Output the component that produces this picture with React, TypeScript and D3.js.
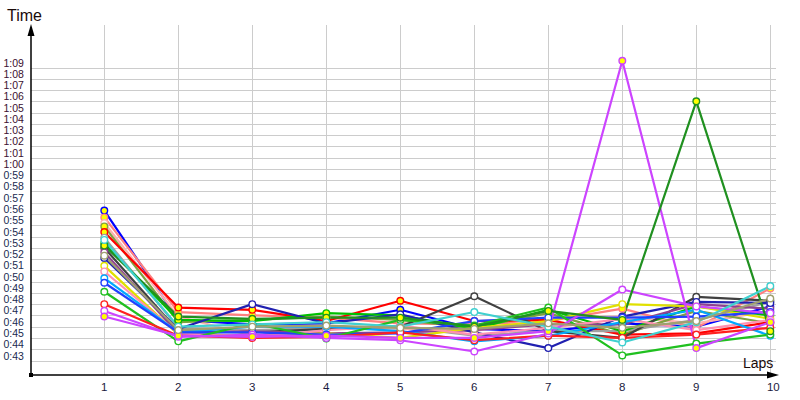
import React from "react";
import * as d3 from "d3";

const laps = [1, 2, 3, 4, 5, 6, 7, 8, 9, 10];
const yTicks = d3.range(43, 70); // seconds 43..69

const seriesNames = [
  "S1", "S2", "S3", "S4", "S5", "S6", "S7", "S8", "S9", "S10", "S11",
  "S12", "S13", "S14", "S15", "S16", "S17", "S18", "S19", "S20", "S21",
];
const seriesColors = [
  "#0000ff", "#ff8080", "#ffb0b0", "#80a040", "#ff0000", "#a0a0a0", "#00c000",
  "#404040", "#904090", "#2020b0", "#e0e000", "#ff90b0", "#00a8ff", "#2040ff",
  "#20c020", "#ff2020", "#cc44ff", "#cc44ff", "#209020", "#40d0d0", "#a0a070",
];
const seriesFill = [
  "#ffff00", "#ffff00", "#ffffff", "#ffff00", "#ffff00", "#ffffff", "#ffff00",
  "#ffffff", "#ffffff", "#ffffff", "#ffffff", "#ffffff", "#ffffff", "#ffffff",
  "#ffffff", "#ffffff", "#ffffff", "#ffff00", "#ffff00", "#ffffff", "#ffffff",
];
const s1 = [56.3, 46.6, 46.2, 46.3, 47.5, 45.8, 45.6, 46.3, 46.0, 47.8];
const s2 = [55.7, 47.3, 47.0, 46.8, 46.3, 46.2, 46.5, 47.6, 45.9, 49.4];
const s3 = [55.2, 46.9, 45.2, 46.0, 45.8, 45.6, 46.8, 46.9, 46.3, 47.4];
const s4 = [54.9, 46.4, 46.6, 46.9, 46.6, 45.9, 47.2, 45.3, 47.4, 46.3];
const s5 = [54.4, 47.7, 47.5, 46.5, 48.3, 46.5, 46.6, 45.3, 45.4, 46.4];
const s6 = [53.9, 45.9, 45.7, 45.9, 46.0, 45.2, 45.6, 45.6, 46.6, 48.2];
const s7 = [53.4, 46.6, 46.5, 47.2, 47.0, 45.8, 47.5, 45.6, 47.8, 47.0];
const s8 = [53.0, 45.6, 45.5, 45.8, 46.0, 48.7, 45.6, 45.0, 48.65, 48.3];
const s9 = [52.6, 45.4, 45.6, 45.4, 45.5, 45.7, 46.2, 46.2, 48.0, 47.6];
const s10 = [52.1, 45.8, 48.0, 46.3, 47.1, 45.5, 44.1, 46.9, 48.2, 48.1];
const s11 = [51.4, 45.3, 45.2, 45.4, 45.0, 45.9, 46.5, 48.0, 47.8, 46.7];
const s12 = [50.9, 45.4, 45.0, 45.7, 46.1, 45.3, 45.9, 46.7, 45.7, 46.6];
const s13 = [50.3, 45.5, 46.0, 46.0, 45.6, 44.7, 45.2, 46.4, 47.5, 45.2];
const s14 = [49.9, 45.5, 45.5, 45.3, 45.4, 46.5, 46.8, 46.8, 46.9, 47.3];
const s15 = [49.1, 44.7, 46.3, 44.95, 46.6, 46.1, 47.7, 43.45, 44.5, 45.3];
const s16 = [48.0, 45.2, 45.0, 45.1, 45.5, 44.8, 45.2, 45.0, 45.3, 45.9];
const s17 = [47.4, 45.1, 45.3, 45.0, 44.8, 43.8, 45.4, 49.3, 47.8, 47.2];
const s18 = [46.9, 45.2, 45.1, 45.2, 45.0, 45.0, 45.6, 69.6, 44.1, 46.4];
const s19 = [53.2, 46.9, 46.7, 46.8, 46.8, 46.0, 47.4, 46.6, 66.0, 45.6];
const s20 = [53.7, 46.0, 46.2, 46.4, 46.0, 47.3, 46.0, 44.6, 46.4, 49.6];
const s21 = [52.3, 45.7, 46.0, 46.1, 45.9, 45.8, 46.3, 45.9, 46.5, 48.5];
const seriesValues = [s1, s2, s3, s4, s5, s6, s7, s8, s9, s10, s11, s12, s13, s14, s15, s16, s17, s18, s19, s20, s21];

const fmt = (s: number) => `${Math.floor(s / 60)}:${String(s % 60).padStart(2, "0")}`;

export default function App() {
  const W = 800, H = 400;
  const axisX = 31, axisY = 375;
  const x = d3.scaleLinear().domain([1, 10]).range([104.3, 770.3]);
  const y = d3.scaleLinear().domain([43, 69]).range([360.5, 67.5]);
  const line = d3.line<number>().x((_, i) => x(laps[i])).y((v) => y(v));
  const font = "'Liberation Sans', Arial, sans-serif";

  return (
    <svg width={W} height={H} style={{ position: "absolute", left: 0, top: 0, background: "#fff" }}>
      <rect x={0} y={0} width={W} height={H} fill="#ffffff" />
      {/* gridlines */}
      {yTicks.map((t) => (
        <line key={"h" + t} x1={axisX} x2={776} y1={Math.round(y(t)) + 0.5} y2={Math.round(y(t)) + 0.5} stroke="#cccccc" strokeWidth={1} />
      ))}
      {laps.map((l) => (
        <line key={"v" + l} x1={Math.round(x(l)) + 0.5} x2={Math.round(x(l)) + 0.5} y1={25} y2={axisY} stroke="#cccccc" strokeWidth={1} />
      ))}
      {/* y tick labels */}
      {yTicks.map((t) => (
        <text key={"yl" + t} x={3.5} y={Math.round(y(t)) - 1.5} fontFamily={font} fontSize={10.5} fill={t >= 60 ? "#3a1030" : "#1a2a50"}>
          {fmt(t)}
        </text>
      ))}
      {/* x tick labels */}
      {laps.map((l) => (
        <text key={"xl" + l} x={x(l) + (l === 10 ? 3 : 0)} y={391} textAnchor="middle" fontFamily={font} fontSize={11.5} fill="#1a1a40">
          {l}
        </text>
      ))}
      {/* series */}
      {seriesValues.map((vals, si) => (
        <g key={seriesNames[si]}>
          <path d={line(vals) || ""} fill="none" stroke={seriesColors[si]} strokeWidth={2.2} strokeLinejoin="round" />
        </g>
      ))}
      {seriesValues.map((vals, si) => (
        <g key={"m" + seriesNames[si]}>
          {vals.map((v, i) => (
            <circle key={i} cx={x(laps[i])} cy={y(v)} r={3.3} fill={seriesFill[si]} stroke={seriesColors[si]} strokeWidth={1.4} />
          ))}
        </g>
      ))}
      {/* axes */}
      <line x1={axisX} x2={axisX} y1={axisY} y2={30} stroke="#000" strokeWidth={1.5} />
      <path d={`M${axisX},24 L${axisX - 3.5},36 L${axisX + 3.5},36 Z`} fill="#000" />
      <line x1={axisX} x2={772} y1={axisY} y2={axisY} stroke="#000" strokeWidth={1.5} />
      <path d={`M779,${axisY} L767,${axisY - 3.5} L767,${axisY + 3.5} Z`} fill="#000" />
      <rect x={axisX - 2} y={axisY - 2} width={4} height={4} fill="#000" />
      <text x={7} y={21} fontFamily={font} fontSize={16} fill="#1a0a0a">Time</text>
      <text x={743} y={368} fontFamily={font} fontSize={14} fill="#1a0a0a">Laps</text>
    </svg>
  );
}
